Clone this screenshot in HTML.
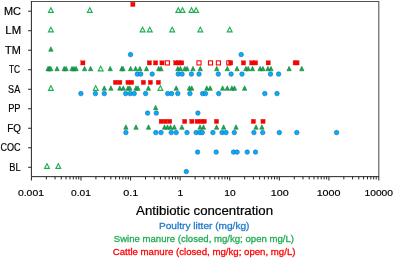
<!DOCTYPE html><html><head><meta charset="utf-8"><title>Antibiotic concentration</title><style>html,body{margin:0;padding:0;background:#fff}body{width:394px;height:258px;overflow:hidden}</style></head><body><svg width="394" height="258" viewBox="0 0 394 258" style="display:block">
<rect width="394" height="258" fill="#fff"/>
<path d="M31.4 1.5H378.8V176.65" fill="none" stroke="#505050" stroke-width="1.05"/>
<path d="M31.4 1.0V176.65H379.0" fill="none" stroke="#242424" stroke-width="1"/>
<path d="M28.099999999999998 11.20H31.4M28.099999999999998 30.71H31.4M28.099999999999998 50.22H31.4M28.099999999999998 69.73H31.4M28.099999999999998 89.24H31.4M28.099999999999998 108.75H31.4M28.099999999999998 128.26H31.4M28.099999999999998 147.77H31.4M28.099999999999998 167.28H31.4" stroke="#242424" stroke-width="1" fill="none"/>
<path d="M31.40 176.65V180.5M80.99 176.65V180.5M130.57 176.65V180.5M180.16 176.65V180.5M229.74 176.65V180.5M279.33 176.65V180.5M328.91 176.65V180.5M378.80 176.65V180.5" stroke="#242424" stroke-width="1" fill="none"/>
<path d="M46.33 176.65V179.4M55.06 176.65V179.4M61.25 176.65V179.4M66.06 176.65V179.4M69.99 176.65V179.4M73.30 176.65V179.4M76.18 176.65V179.4M78.72 176.65V179.4M95.91 176.65V179.4M104.64 176.65V179.4M110.84 176.65V179.4M115.64 176.65V179.4M119.57 176.65V179.4M122.89 176.65V179.4M125.77 176.65V179.4M128.30 176.65V179.4M145.50 176.65V179.4M154.23 176.65V179.4M160.43 176.65V179.4M165.23 176.65V179.4M169.16 176.65V179.4M172.48 176.65V179.4M175.35 176.65V179.4M177.89 176.65V179.4M195.08 176.65V179.4M203.82 176.65V179.4M210.01 176.65V179.4M214.82 176.65V179.4M218.74 176.65V179.4M222.06 176.65V179.4M224.94 176.65V179.4M227.47 176.65V179.4M244.67 176.65V179.4M253.40 176.65V179.4M259.60 176.65V179.4M264.40 176.65V179.4M268.33 176.65V179.4M271.65 176.65V179.4M274.52 176.65V179.4M277.06 176.65V179.4M294.26 176.65V179.4M302.99 176.65V179.4M309.18 176.65V179.4M313.99 176.65V179.4M317.91 176.65V179.4M321.23 176.65V179.4M324.11 176.65V179.4M326.65 176.65V179.4M343.84 176.65V179.4M352.57 176.65V179.4M358.77 176.65V179.4M363.57 176.65V179.4M367.50 176.65V179.4M370.82 176.65V179.4M373.69 176.65V179.4M376.23 176.65V179.4" stroke="#242424" stroke-width="1" fill="none"/>
<circle cx="130.50" cy="54.60" r="2.25" fill="#00B2F4" stroke="#1C6CBE" stroke-width="0.65"/>
<circle cx="241.20" cy="54.60" r="2.25" fill="#00B2F4" stroke="#1C6CBE" stroke-width="0.65"/>
<circle cx="137.30" cy="74.10" r="2.25" fill="#00B2F4" stroke="#1C6CBE" stroke-width="0.65"/>
<circle cx="140.70" cy="74.10" r="2.25" fill="#00B2F4" stroke="#1C6CBE" stroke-width="0.65"/>
<circle cx="152.20" cy="74.10" r="2.25" fill="#00B2F4" stroke="#1C6CBE" stroke-width="0.65"/>
<circle cx="178.20" cy="74.10" r="2.25" fill="#00B2F4" stroke="#1C6CBE" stroke-width="0.65"/>
<circle cx="182.10" cy="74.10" r="2.25" fill="#00B2F4" stroke="#1C6CBE" stroke-width="0.65"/>
<circle cx="191.40" cy="74.10" r="2.25" fill="#00B2F4" stroke="#1C6CBE" stroke-width="0.65"/>
<circle cx="199.00" cy="74.10" r="2.25" fill="#00B2F4" stroke="#1C6CBE" stroke-width="0.65"/>
<circle cx="218.30" cy="74.10" r="2.25" fill="#00B2F4" stroke="#1C6CBE" stroke-width="0.65"/>
<circle cx="231.10" cy="74.10" r="2.25" fill="#00B2F4" stroke="#1C6CBE" stroke-width="0.65"/>
<circle cx="242.00" cy="74.10" r="2.25" fill="#00B2F4" stroke="#1C6CBE" stroke-width="0.65"/>
<circle cx="270.50" cy="74.10" r="2.25" fill="#00B2F4" stroke="#1C6CBE" stroke-width="0.65"/>
<circle cx="278.60" cy="74.10" r="2.25" fill="#00B2F4" stroke="#1C6CBE" stroke-width="0.65"/>
<circle cx="80.90" cy="93.60" r="2.25" fill="#00B2F4" stroke="#1C6CBE" stroke-width="0.65"/>
<circle cx="95.40" cy="93.60" r="2.25" fill="#00B2F4" stroke="#1C6CBE" stroke-width="0.65"/>
<circle cx="104.30" cy="93.60" r="2.25" fill="#00B2F4" stroke="#1C6CBE" stroke-width="0.65"/>
<circle cx="125.70" cy="93.60" r="2.25" fill="#00B2F4" stroke="#1C6CBE" stroke-width="0.65"/>
<circle cx="130.20" cy="93.60" r="2.25" fill="#00B2F4" stroke="#1C6CBE" stroke-width="0.65"/>
<circle cx="134.20" cy="93.60" r="2.25" fill="#00B2F4" stroke="#1C6CBE" stroke-width="0.65"/>
<circle cx="145.60" cy="93.60" r="2.25" fill="#00B2F4" stroke="#1C6CBE" stroke-width="0.65"/>
<circle cx="167.70" cy="93.60" r="2.25" fill="#00B2F4" stroke="#1C6CBE" stroke-width="0.65"/>
<circle cx="171.60" cy="93.60" r="2.25" fill="#00B2F4" stroke="#1C6CBE" stroke-width="0.65"/>
<circle cx="177.80" cy="93.60" r="2.25" fill="#00B2F4" stroke="#1C6CBE" stroke-width="0.65"/>
<circle cx="189.90" cy="93.60" r="2.25" fill="#00B2F4" stroke="#1C6CBE" stroke-width="0.65"/>
<circle cx="202.60" cy="93.60" r="2.25" fill="#00B2F4" stroke="#1C6CBE" stroke-width="0.65"/>
<circle cx="205.50" cy="93.60" r="2.25" fill="#00B2F4" stroke="#1C6CBE" stroke-width="0.65"/>
<circle cx="218.70" cy="93.60" r="2.25" fill="#00B2F4" stroke="#1C6CBE" stroke-width="0.65"/>
<circle cx="264.80" cy="93.60" r="2.25" fill="#00B2F4" stroke="#1C6CBE" stroke-width="0.65"/>
<circle cx="277.00" cy="93.60" r="2.25" fill="#00B2F4" stroke="#1C6CBE" stroke-width="0.65"/>
<circle cx="147.60" cy="113.10" r="2.25" fill="#00B2F4" stroke="#1C6CBE" stroke-width="0.65"/>
<circle cx="156.30" cy="113.10" r="2.25" fill="#00B2F4" stroke="#1C6CBE" stroke-width="0.65"/>
<circle cx="197.90" cy="113.10" r="2.25" fill="#00B2F4" stroke="#1C6CBE" stroke-width="0.65"/>
<circle cx="125.90" cy="132.60" r="2.25" fill="#00B2F4" stroke="#1C6CBE" stroke-width="0.65"/>
<circle cx="155.80" cy="132.60" r="2.25" fill="#00B2F4" stroke="#1C6CBE" stroke-width="0.65"/>
<circle cx="161.00" cy="132.60" r="2.25" fill="#00B2F4" stroke="#1C6CBE" stroke-width="0.65"/>
<circle cx="171.20" cy="132.60" r="2.25" fill="#00B2F4" stroke="#1C6CBE" stroke-width="0.65"/>
<circle cx="176.20" cy="132.60" r="2.25" fill="#00B2F4" stroke="#1C6CBE" stroke-width="0.65"/>
<circle cx="187.00" cy="132.60" r="2.25" fill="#00B2F4" stroke="#1C6CBE" stroke-width="0.65"/>
<circle cx="196.10" cy="132.60" r="2.25" fill="#00B2F4" stroke="#1C6CBE" stroke-width="0.65"/>
<circle cx="200.00" cy="132.60" r="2.25" fill="#00B2F4" stroke="#1C6CBE" stroke-width="0.65"/>
<circle cx="202.30" cy="132.60" r="2.25" fill="#00B2F4" stroke="#1C6CBE" stroke-width="0.65"/>
<circle cx="212.90" cy="132.60" r="2.25" fill="#00B2F4" stroke="#1C6CBE" stroke-width="0.65"/>
<circle cx="222.10" cy="132.60" r="2.25" fill="#00B2F4" stroke="#1C6CBE" stroke-width="0.65"/>
<circle cx="226.00" cy="132.60" r="2.25" fill="#00B2F4" stroke="#1C6CBE" stroke-width="0.65"/>
<circle cx="234.30" cy="132.60" r="2.25" fill="#00B2F4" stroke="#1C6CBE" stroke-width="0.65"/>
<circle cx="253.90" cy="132.60" r="2.25" fill="#00B2F4" stroke="#1C6CBE" stroke-width="0.65"/>
<circle cx="262.70" cy="132.60" r="2.25" fill="#00B2F4" stroke="#1C6CBE" stroke-width="0.65"/>
<circle cx="279.30" cy="132.60" r="2.25" fill="#00B2F4" stroke="#1C6CBE" stroke-width="0.65"/>
<circle cx="296.80" cy="132.60" r="2.25" fill="#00B2F4" stroke="#1C6CBE" stroke-width="0.65"/>
<circle cx="336.60" cy="132.60" r="2.25" fill="#00B2F4" stroke="#1C6CBE" stroke-width="0.65"/>
<circle cx="197.60" cy="152.10" r="2.25" fill="#00B2F4" stroke="#1C6CBE" stroke-width="0.65"/>
<circle cx="216.20" cy="152.10" r="2.25" fill="#00B2F4" stroke="#1C6CBE" stroke-width="0.65"/>
<circle cx="233.50" cy="152.10" r="2.25" fill="#00B2F4" stroke="#1C6CBE" stroke-width="0.65"/>
<circle cx="237.10" cy="152.10" r="2.25" fill="#00B2F4" stroke="#1C6CBE" stroke-width="0.65"/>
<circle cx="247.20" cy="152.10" r="2.25" fill="#00B2F4" stroke="#1C6CBE" stroke-width="0.65"/>
<circle cx="255.50" cy="152.10" r="2.25" fill="#00B2F4" stroke="#1C6CBE" stroke-width="0.65"/>
<circle cx="186.30" cy="171.60" r="2.25" fill="#00B2F4" stroke="#1C6CBE" stroke-width="0.65"/>
<path d="M50.90 46.80L53.10 51.30H48.70Z" fill="#0CAE4C" stroke="#0F7032" stroke-width="0.5" stroke-linejoin="miter"/>
<path d="M48.10 66.30L50.30 70.80H45.90Z" fill="#0CAE4C" stroke="#0F7032" stroke-width="0.5" stroke-linejoin="miter"/>
<path d="M49.40 66.30L51.60 70.80H47.20Z" fill="#0CAE4C" stroke="#0F7032" stroke-width="0.5" stroke-linejoin="miter"/>
<path d="M50.70 66.30L52.90 70.80H48.50Z" fill="#0CAE4C" stroke="#0F7032" stroke-width="0.5" stroke-linejoin="miter"/>
<path d="M57.05 66.30L59.25 70.80H54.85Z" fill="#0CAE4C" stroke="#0F7032" stroke-width="0.5" stroke-linejoin="miter"/>
<path d="M64.20 66.30L66.40 70.80H62.00Z" fill="#0CAE4C" stroke="#0F7032" stroke-width="0.5" stroke-linejoin="miter"/>
<path d="M66.10 66.30L68.30 70.80H63.90Z" fill="#0CAE4C" stroke="#0F7032" stroke-width="0.5" stroke-linejoin="miter"/>
<path d="M72.00 66.30L74.20 70.80H69.80Z" fill="#0CAE4C" stroke="#0F7032" stroke-width="0.5" stroke-linejoin="miter"/>
<path d="M74.00 66.30L76.20 70.80H71.80Z" fill="#0CAE4C" stroke="#0F7032" stroke-width="0.5" stroke-linejoin="miter"/>
<path d="M76.10 66.30L78.30 70.80H73.90Z" fill="#0CAE4C" stroke="#0F7032" stroke-width="0.5" stroke-linejoin="miter"/>
<path d="M84.60 66.30L86.80 70.80H82.40Z" fill="#0CAE4C" stroke="#0F7032" stroke-width="0.5" stroke-linejoin="miter"/>
<path d="M90.60 66.30L92.80 70.80H88.40Z" fill="#0CAE4C" stroke="#0F7032" stroke-width="0.5" stroke-linejoin="miter"/>
<path d="M110.20 66.30L112.40 70.80H108.00Z" fill="#0CAE4C" stroke="#0F7032" stroke-width="0.5" stroke-linejoin="miter"/>
<path d="M121.80 66.30L124.00 70.80H119.60Z" fill="#0CAE4C" stroke="#0F7032" stroke-width="0.5" stroke-linejoin="miter"/>
<path d="M123.00 66.30L125.20 70.80H120.80Z" fill="#0CAE4C" stroke="#0F7032" stroke-width="0.5" stroke-linejoin="miter"/>
<path d="M130.60 66.30L132.80 70.80H128.40Z" fill="#0CAE4C" stroke="#0F7032" stroke-width="0.5" stroke-linejoin="miter"/>
<path d="M135.60 66.30L137.80 70.80H133.40Z" fill="#0CAE4C" stroke="#0F7032" stroke-width="0.5" stroke-linejoin="miter"/>
<path d="M139.90 66.30L142.10 70.80H137.70Z" fill="#0CAE4C" stroke="#0F7032" stroke-width="0.5" stroke-linejoin="miter"/>
<path d="M146.50 66.30L148.70 70.80H144.30Z" fill="#0CAE4C" stroke="#0F7032" stroke-width="0.5" stroke-linejoin="miter"/>
<path d="M158.70 66.30L160.90 70.80H156.50Z" fill="#0CAE4C" stroke="#0F7032" stroke-width="0.5" stroke-linejoin="miter"/>
<path d="M161.00 66.30L163.20 70.80H158.80Z" fill="#0CAE4C" stroke="#0F7032" stroke-width="0.5" stroke-linejoin="miter"/>
<path d="M177.80 66.30L180.00 70.80H175.60Z" fill="#0CAE4C" stroke="#0F7032" stroke-width="0.5" stroke-linejoin="miter"/>
<path d="M180.40 66.30L182.60 70.80H178.20Z" fill="#0CAE4C" stroke="#0F7032" stroke-width="0.5" stroke-linejoin="miter"/>
<path d="M184.80 66.30L187.00 70.80H182.60Z" fill="#0CAE4C" stroke="#0F7032" stroke-width="0.5" stroke-linejoin="miter"/>
<path d="M187.10 66.30L189.30 70.80H184.90Z" fill="#0CAE4C" stroke="#0F7032" stroke-width="0.5" stroke-linejoin="miter"/>
<path d="M193.00 66.30L195.20 70.80H190.80Z" fill="#0CAE4C" stroke="#0F7032" stroke-width="0.5" stroke-linejoin="miter"/>
<path d="M200.30 66.30L202.50 70.80H198.10Z" fill="#0CAE4C" stroke="#0F7032" stroke-width="0.5" stroke-linejoin="miter"/>
<path d="M216.70 66.30L218.90 70.80H214.50Z" fill="#0CAE4C" stroke="#0F7032" stroke-width="0.5" stroke-linejoin="miter"/>
<path d="M227.30 66.30L229.50 70.80H225.10Z" fill="#0CAE4C" stroke="#0F7032" stroke-width="0.5" stroke-linejoin="miter"/>
<path d="M237.00 66.30L239.20 70.80H234.80Z" fill="#0CAE4C" stroke="#0F7032" stroke-width="0.5" stroke-linejoin="miter"/>
<path d="M245.90 66.30L248.10 70.80H243.70Z" fill="#0CAE4C" stroke="#0F7032" stroke-width="0.5" stroke-linejoin="miter"/>
<path d="M248.20 66.30L250.40 70.80H246.00Z" fill="#0CAE4C" stroke="#0F7032" stroke-width="0.5" stroke-linejoin="miter"/>
<path d="M252.50 66.30L254.70 70.80H250.30Z" fill="#0CAE4C" stroke="#0F7032" stroke-width="0.5" stroke-linejoin="miter"/>
<path d="M260.10 66.30L262.30 70.80H257.90Z" fill="#0CAE4C" stroke="#0F7032" stroke-width="0.5" stroke-linejoin="miter"/>
<path d="M262.90 66.30L265.10 70.80H260.70Z" fill="#0CAE4C" stroke="#0F7032" stroke-width="0.5" stroke-linejoin="miter"/>
<path d="M267.90 66.30L270.10 70.80H265.70Z" fill="#0CAE4C" stroke="#0F7032" stroke-width="0.5" stroke-linejoin="miter"/>
<path d="M271.00 66.30L273.20 70.80H268.80Z" fill="#0CAE4C" stroke="#0F7032" stroke-width="0.5" stroke-linejoin="miter"/>
<path d="M289.10 66.30L291.30 70.80H286.90Z" fill="#0CAE4C" stroke="#0F7032" stroke-width="0.5" stroke-linejoin="miter"/>
<path d="M301.80 66.30L304.00 70.80H299.60Z" fill="#0CAE4C" stroke="#0F7032" stroke-width="0.5" stroke-linejoin="miter"/>
<path d="M104.30 85.80L106.50 90.30H102.10Z" fill="#0CAE4C" stroke="#0F7032" stroke-width="0.5" stroke-linejoin="miter"/>
<path d="M110.90 85.80L113.10 90.30H108.70Z" fill="#0CAE4C" stroke="#0F7032" stroke-width="0.5" stroke-linejoin="miter"/>
<path d="M119.80 85.80L122.00 90.30H117.60Z" fill="#0CAE4C" stroke="#0F7032" stroke-width="0.5" stroke-linejoin="miter"/>
<path d="M123.30 85.80L125.50 90.30H121.10Z" fill="#0CAE4C" stroke="#0F7032" stroke-width="0.5" stroke-linejoin="miter"/>
<path d="M128.00 85.80L130.20 90.30H125.80Z" fill="#0CAE4C" stroke="#0F7032" stroke-width="0.5" stroke-linejoin="miter"/>
<path d="M129.90 85.80L132.10 90.30H127.70Z" fill="#0CAE4C" stroke="#0F7032" stroke-width="0.5" stroke-linejoin="miter"/>
<path d="M136.00 85.80L138.20 90.30H133.80Z" fill="#0CAE4C" stroke="#0F7032" stroke-width="0.5" stroke-linejoin="miter"/>
<path d="M137.90 85.80L140.10 90.30H135.70Z" fill="#0CAE4C" stroke="#0F7032" stroke-width="0.5" stroke-linejoin="miter"/>
<path d="M148.40 85.80L150.60 90.30H146.20Z" fill="#0CAE4C" stroke="#0F7032" stroke-width="0.5" stroke-linejoin="miter"/>
<path d="M176.20 85.80L178.40 90.30H174.00Z" fill="#0CAE4C" stroke="#0F7032" stroke-width="0.5" stroke-linejoin="miter"/>
<path d="M189.40 85.80L191.60 90.30H187.20Z" fill="#0CAE4C" stroke="#0F7032" stroke-width="0.5" stroke-linejoin="miter"/>
<path d="M191.70 85.80L193.90 90.30H189.50Z" fill="#0CAE4C" stroke="#0F7032" stroke-width="0.5" stroke-linejoin="miter"/>
<path d="M206.80 85.80L209.00 90.30H204.60Z" fill="#0CAE4C" stroke="#0F7032" stroke-width="0.5" stroke-linejoin="miter"/>
<path d="M210.20 85.80L212.40 90.30H208.00Z" fill="#0CAE4C" stroke="#0F7032" stroke-width="0.5" stroke-linejoin="miter"/>
<path d="M222.60 85.80L224.80 90.30H220.40Z" fill="#0CAE4C" stroke="#0F7032" stroke-width="0.5" stroke-linejoin="miter"/>
<path d="M227.30 85.80L229.50 90.30H225.10Z" fill="#0CAE4C" stroke="#0F7032" stroke-width="0.5" stroke-linejoin="miter"/>
<path d="M231.90 85.80L234.10 90.30H229.70Z" fill="#0CAE4C" stroke="#0F7032" stroke-width="0.5" stroke-linejoin="miter"/>
<path d="M234.50 85.80L236.70 90.30H232.30Z" fill="#0CAE4C" stroke="#0F7032" stroke-width="0.5" stroke-linejoin="miter"/>
<path d="M244.60 85.80L246.80 90.30H242.40Z" fill="#0CAE4C" stroke="#0F7032" stroke-width="0.5" stroke-linejoin="miter"/>
<path d="M155.60 105.30L157.80 109.80H153.40Z" fill="#0CAE4C" stroke="#0F7032" stroke-width="0.5" stroke-linejoin="miter"/>
<path d="M125.90 124.80L128.10 129.30H123.70Z" fill="#0CAE4C" stroke="#0F7032" stroke-width="0.5" stroke-linejoin="miter"/>
<path d="M136.00 124.80L138.20 129.30H133.80Z" fill="#0CAE4C" stroke="#0F7032" stroke-width="0.5" stroke-linejoin="miter"/>
<path d="M148.50 124.80L150.70 129.30H146.30Z" fill="#0CAE4C" stroke="#0F7032" stroke-width="0.5" stroke-linejoin="miter"/>
<path d="M164.50 124.80L166.70 129.30H162.30Z" fill="#0CAE4C" stroke="#0F7032" stroke-width="0.5" stroke-linejoin="miter"/>
<path d="M167.50 124.80L169.70 129.30H165.30Z" fill="#0CAE4C" stroke="#0F7032" stroke-width="0.5" stroke-linejoin="miter"/>
<path d="M170.50 124.80L172.70 129.30H168.30Z" fill="#0CAE4C" stroke="#0F7032" stroke-width="0.5" stroke-linejoin="miter"/>
<path d="M174.30 124.80L176.50 129.30H172.10Z" fill="#0CAE4C" stroke="#0F7032" stroke-width="0.5" stroke-linejoin="miter"/>
<path d="M181.90 124.80L184.10 129.30H179.70Z" fill="#0CAE4C" stroke="#0F7032" stroke-width="0.5" stroke-linejoin="miter"/>
<path d="M200.00 124.80L202.20 129.30H197.80Z" fill="#0CAE4C" stroke="#0F7032" stroke-width="0.5" stroke-linejoin="miter"/>
<path d="M203.50 124.80L205.70 129.30H201.30Z" fill="#0CAE4C" stroke="#0F7032" stroke-width="0.5" stroke-linejoin="miter"/>
<path d="M216.60 124.80L218.80 129.30H214.40Z" fill="#0CAE4C" stroke="#0F7032" stroke-width="0.5" stroke-linejoin="miter"/>
<path d="M223.60 124.80L225.80 129.30H221.40Z" fill="#0CAE4C" stroke="#0F7032" stroke-width="0.5" stroke-linejoin="miter"/>
<path d="M236.00 124.80L238.20 129.30H233.80Z" fill="#0CAE4C" stroke="#0F7032" stroke-width="0.5" stroke-linejoin="miter"/>
<path d="M256.00 124.80L258.20 129.30H253.80Z" fill="#0CAE4C" stroke="#0F7032" stroke-width="0.5" stroke-linejoin="miter"/>
<path d="M261.90 124.80L264.10 129.30H259.70Z" fill="#0CAE4C" stroke="#0F7032" stroke-width="0.5" stroke-linejoin="miter"/>
<path d="M50.90 7.65L53.35 12.40H48.45Z" fill="#fff" stroke="#1DB050" stroke-width="1.1" stroke-linejoin="miter"/>
<path d="M89.80 7.65L92.25 12.40H87.35Z" fill="#fff" stroke="#1DB050" stroke-width="1.1" stroke-linejoin="miter"/>
<path d="M178.30 7.65L180.75 12.40H175.85Z" fill="#fff" stroke="#1DB050" stroke-width="1.1" stroke-linejoin="miter"/>
<path d="M182.50 7.65L184.95 12.40H180.05Z" fill="#fff" stroke="#1DB050" stroke-width="1.1" stroke-linejoin="miter"/>
<path d="M191.50 7.65L193.95 12.40H189.05Z" fill="#fff" stroke="#1DB050" stroke-width="1.1" stroke-linejoin="miter"/>
<path d="M196.10 7.65L198.55 12.40H193.65Z" fill="#fff" stroke="#1DB050" stroke-width="1.1" stroke-linejoin="miter"/>
<path d="M50.90 27.15L53.35 31.90H48.45Z" fill="#fff" stroke="#1DB050" stroke-width="1.1" stroke-linejoin="miter"/>
<path d="M142.60 27.15L145.05 31.90H140.15Z" fill="#fff" stroke="#1DB050" stroke-width="1.1" stroke-linejoin="miter"/>
<path d="M149.80 27.15L152.25 31.90H147.35Z" fill="#fff" stroke="#1DB050" stroke-width="1.1" stroke-linejoin="miter"/>
<path d="M172.20 27.15L174.65 31.90H169.75Z" fill="#fff" stroke="#1DB050" stroke-width="1.1" stroke-linejoin="miter"/>
<path d="M200.30 27.15L202.75 31.90H197.85Z" fill="#fff" stroke="#1DB050" stroke-width="1.1" stroke-linejoin="miter"/>
<path d="M229.70 27.15L232.15 31.90H227.25Z" fill="#fff" stroke="#1DB050" stroke-width="1.1" stroke-linejoin="miter"/>
<path d="M100.70 66.15L103.15 70.90H98.25Z" fill="#fff" stroke="#1DB050" stroke-width="1.1" stroke-linejoin="miter"/>
<path d="M50.90 85.65L53.35 90.40H48.45Z" fill="#fff" stroke="#1DB050" stroke-width="1.1" stroke-linejoin="miter"/>
<path d="M95.75 85.65L98.20 90.40H93.30Z" fill="#fff" stroke="#1DB050" stroke-width="1.1" stroke-linejoin="miter"/>
<path d="M160.40 85.65L162.85 90.40H157.95Z" fill="#fff" stroke="#1DB050" stroke-width="1.1" stroke-linejoin="miter"/>
<path d="M47.00 163.65L49.45 168.40H44.55Z" fill="#fff" stroke="#1DB050" stroke-width="1.1" stroke-linejoin="miter"/>
<path d="M58.30 163.65L60.75 168.40H55.85Z" fill="#fff" stroke="#1DB050" stroke-width="1.1" stroke-linejoin="miter"/>
<rect x="165.35" y="60.85" width="4.1" height="4.1" fill="#fff" stroke="#FF0000" stroke-width="1.1"/>
<rect x="196.95" y="60.85" width="4.1" height="4.1" fill="#fff" stroke="#FF0000" stroke-width="1.1"/>
<rect x="208.45" y="60.85" width="4.1" height="4.1" fill="#fff" stroke="#FF0000" stroke-width="1.1"/>
<rect x="216.35" y="60.85" width="4.1" height="4.1" fill="#fff" stroke="#FF0000" stroke-width="1.1"/>
<rect x="226.75" y="60.85" width="4.1" height="4.1" fill="#fff" stroke="#FF0000" stroke-width="1.1"/>
<rect x="130.80" y="2.30" width="4.2" height="4.2" fill="#FF0000" stroke="#C81414" stroke-width="0.35"/>
<rect x="80.80" y="60.80" width="4.2" height="4.2" fill="#FF0000" stroke="#C81414" stroke-width="0.35"/>
<rect x="147.30" y="60.80" width="4.2" height="4.2" fill="#FF0000" stroke="#C81414" stroke-width="0.35"/>
<rect x="153.50" y="60.80" width="4.2" height="4.2" fill="#FF0000" stroke="#C81414" stroke-width="0.35"/>
<rect x="159.90" y="60.80" width="4.2" height="4.2" fill="#FF0000" stroke="#C81414" stroke-width="0.35"/>
<rect x="173.70" y="60.80" width="4.2" height="4.2" fill="#FF0000" stroke="#C81414" stroke-width="0.35"/>
<rect x="176.80" y="60.80" width="4.2" height="4.2" fill="#FF0000" stroke="#C81414" stroke-width="0.35"/>
<rect x="179.60" y="60.80" width="4.2" height="4.2" fill="#FF0000" stroke="#C81414" stroke-width="0.35"/>
<rect x="228.60" y="60.80" width="4.2" height="4.2" fill="#FF0000" stroke="#C81414" stroke-width="0.35"/>
<rect x="241.40" y="60.80" width="4.2" height="4.2" fill="#FF0000" stroke="#C81414" stroke-width="0.35"/>
<rect x="249.70" y="60.80" width="4.2" height="4.2" fill="#FF0000" stroke="#C81414" stroke-width="0.35"/>
<rect x="253.40" y="60.80" width="4.2" height="4.2" fill="#FF0000" stroke="#C81414" stroke-width="0.35"/>
<rect x="266.10" y="60.80" width="4.2" height="4.2" fill="#FF0000" stroke="#C81414" stroke-width="0.35"/>
<rect x="293.10" y="60.80" width="4.2" height="4.2" fill="#FF0000" stroke="#C81414" stroke-width="0.35"/>
<rect x="294.90" y="60.80" width="4.2" height="4.2" fill="#FF0000" stroke="#C81414" stroke-width="0.35"/>
<rect x="113.40" y="80.30" width="4.2" height="4.2" fill="#FF0000" stroke="#C81414" stroke-width="0.35"/>
<rect x="117.70" y="80.30" width="4.2" height="4.2" fill="#FF0000" stroke="#C81414" stroke-width="0.35"/>
<rect x="125.90" y="80.30" width="4.2" height="4.2" fill="#FF0000" stroke="#C81414" stroke-width="0.35"/>
<rect x="129.50" y="80.30" width="4.2" height="4.2" fill="#FF0000" stroke="#C81414" stroke-width="0.35"/>
<rect x="141.30" y="80.30" width="4.2" height="4.2" fill="#FF0000" stroke="#C81414" stroke-width="0.35"/>
<rect x="148.30" y="80.30" width="4.2" height="4.2" fill="#FF0000" stroke="#C81414" stroke-width="0.35"/>
<rect x="156.30" y="80.30" width="4.2" height="4.2" fill="#FF0000" stroke="#C81414" stroke-width="0.35"/>
<rect x="159.10" y="119.30" width="4.2" height="4.2" fill="#FF0000" stroke="#C81414" stroke-width="0.35"/>
<rect x="163.30" y="119.30" width="4.2" height="4.2" fill="#FF0000" stroke="#C81414" stroke-width="0.35"/>
<rect x="167.60" y="119.30" width="4.2" height="4.2" fill="#FF0000" stroke="#C81414" stroke-width="0.35"/>
<rect x="182.60" y="119.30" width="4.2" height="4.2" fill="#FF0000" stroke="#C81414" stroke-width="0.35"/>
<rect x="189.80" y="119.30" width="4.2" height="4.2" fill="#FF0000" stroke="#C81414" stroke-width="0.35"/>
<rect x="195.10" y="119.30" width="4.2" height="4.2" fill="#FF0000" stroke="#C81414" stroke-width="0.35"/>
<rect x="198.90" y="119.30" width="4.2" height="4.2" fill="#FF0000" stroke="#C81414" stroke-width="0.35"/>
<rect x="202.20" y="119.30" width="4.2" height="4.2" fill="#FF0000" stroke="#C81414" stroke-width="0.35"/>
<rect x="214.40" y="119.30" width="4.2" height="4.2" fill="#FF0000" stroke="#C81414" stroke-width="0.35"/>
<rect x="251.30" y="119.30" width="4.2" height="4.2" fill="#FF0000" stroke="#C81414" stroke-width="0.35"/>
<rect x="260.90" y="119.30" width="4.2" height="4.2" fill="#FF0000" stroke="#C81414" stroke-width="0.35"/>
<text x="3.90" y="14.65" font-size="10.2" textLength="16.97" lengthAdjust="spacingAndGlyphs" fill="#000" stroke="#000" stroke-width="0.18" font-family="Liberation Sans, Arial, sans-serif">MC</text>
<text x="5.33" y="34.15" font-size="10.2" textLength="15.75" lengthAdjust="spacingAndGlyphs" fill="#000" stroke="#000" stroke-width="0.18" font-family="Liberation Sans, Arial, sans-serif">LM</text>
<text x="5.12" y="53.65" font-size="10.2" textLength="15.73" lengthAdjust="spacingAndGlyphs" fill="#000" stroke="#000" stroke-width="0.18" font-family="Liberation Sans, Arial, sans-serif">TM</text>
<text x="8.97" y="73.15" font-size="10.2" textLength="11.17" lengthAdjust="spacingAndGlyphs" fill="#000" stroke="#000" stroke-width="0.18" font-family="Liberation Sans, Arial, sans-serif">TC</text>
<text x="8.12" y="92.65" font-size="10.2" textLength="12.05" lengthAdjust="spacingAndGlyphs" fill="#000" stroke="#000" stroke-width="0.18" font-family="Liberation Sans, Arial, sans-serif">SA</text>
<text x="8.18" y="112.15" font-size="10.2" textLength="12.40" lengthAdjust="spacingAndGlyphs" fill="#000" stroke="#000" stroke-width="0.18" font-family="Liberation Sans, Arial, sans-serif">PP</text>
<text x="7.35" y="131.65" font-size="10.2" textLength="13.63" lengthAdjust="spacingAndGlyphs" fill="#000" stroke="#000" stroke-width="0.18" font-family="Liberation Sans, Arial, sans-serif">FQ</text>
<text x="0.43" y="151.15" font-size="10.2" textLength="20.13" lengthAdjust="spacingAndGlyphs" fill="#000" stroke="#000" stroke-width="0.18" font-family="Liberation Sans, Arial, sans-serif">COC</text>
<text x="9.28" y="170.65" font-size="10.2" textLength="11.37" lengthAdjust="spacingAndGlyphs" fill="#000" stroke="#000" stroke-width="0.18" font-family="Liberation Sans, Arial, sans-serif">BL</text>
<text x="17.95" y="195.55" font-size="9.9" textLength="26.03" lengthAdjust="spacingAndGlyphs" fill="#000" stroke="#000" stroke-width="0.18" font-family="Liberation Sans, Arial, sans-serif">0.001</text>
<text x="71.05" y="195.55" font-size="9.9" textLength="19.92" lengthAdjust="spacingAndGlyphs" fill="#000" stroke="#000" stroke-width="0.18" font-family="Liberation Sans, Arial, sans-serif">0.01</text>
<text x="123.22" y="195.55" font-size="9.9" textLength="15.05" lengthAdjust="spacingAndGlyphs" fill="#000" stroke="#000" stroke-width="0.18" font-family="Liberation Sans, Arial, sans-serif">0.1</text>
<text x="177.45" y="195.55" font-size="9.9" textLength="5.73" lengthAdjust="spacingAndGlyphs" fill="#000" stroke="#000" stroke-width="0.18" font-family="Liberation Sans, Arial, sans-serif">1</text>
<text x="224.38" y="195.55" font-size="9.9" textLength="11.38" lengthAdjust="spacingAndGlyphs" fill="#000" stroke="#000" stroke-width="0.18" font-family="Liberation Sans, Arial, sans-serif">10</text>
<text x="270.75" y="195.55" font-size="9.9" textLength="17.93" lengthAdjust="spacingAndGlyphs" fill="#000" stroke="#000" stroke-width="0.18" font-family="Liberation Sans, Arial, sans-serif">100</text>
<text x="316.65" y="195.55" font-size="9.9" textLength="23.90" lengthAdjust="spacingAndGlyphs" fill="#000" stroke="#000" stroke-width="0.18" font-family="Liberation Sans, Arial, sans-serif">1000</text>
<text x="364.48" y="195.55" font-size="9.9" textLength="28.60" lengthAdjust="spacingAndGlyphs" fill="#000" stroke="#000" stroke-width="0.18" font-family="Liberation Sans, Arial, sans-serif">10000</text>
<text x="136.12" y="215.00" font-size="12.6" textLength="136.93" lengthAdjust="spacingAndGlyphs" fill="#000" stroke="#000" stroke-width="0.22" font-family="Liberation Sans, Arial, sans-serif">Antibiotic concentration</text>
<text x="158.97" y="228.80" font-size="9.9" textLength="90.53" lengthAdjust="spacingAndGlyphs" fill="#1F78C8" stroke="#1F78C8" stroke-width="0.28" font-family="Liberation Sans, Arial, sans-serif">Poultry litter (mg/kg)</text>
<text x="113.75" y="242.00" font-size="9.9" textLength="180.25" lengthAdjust="spacingAndGlyphs" fill="#1FAA50" stroke="#1FAA50" stroke-width="0.28" font-family="Liberation Sans, Arial, sans-serif">Swine manure (closed, mg/kg; open mg/L)</text>
<text x="112.72" y="254.60" font-size="9.9" textLength="182.78" lengthAdjust="spacingAndGlyphs" fill="#FF0000" stroke="#FF0000" stroke-width="0.28" font-family="Liberation Sans, Arial, sans-serif">Cattle manure (closed, mg/kg; open, mg/L)</text>
</svg></body></html>
